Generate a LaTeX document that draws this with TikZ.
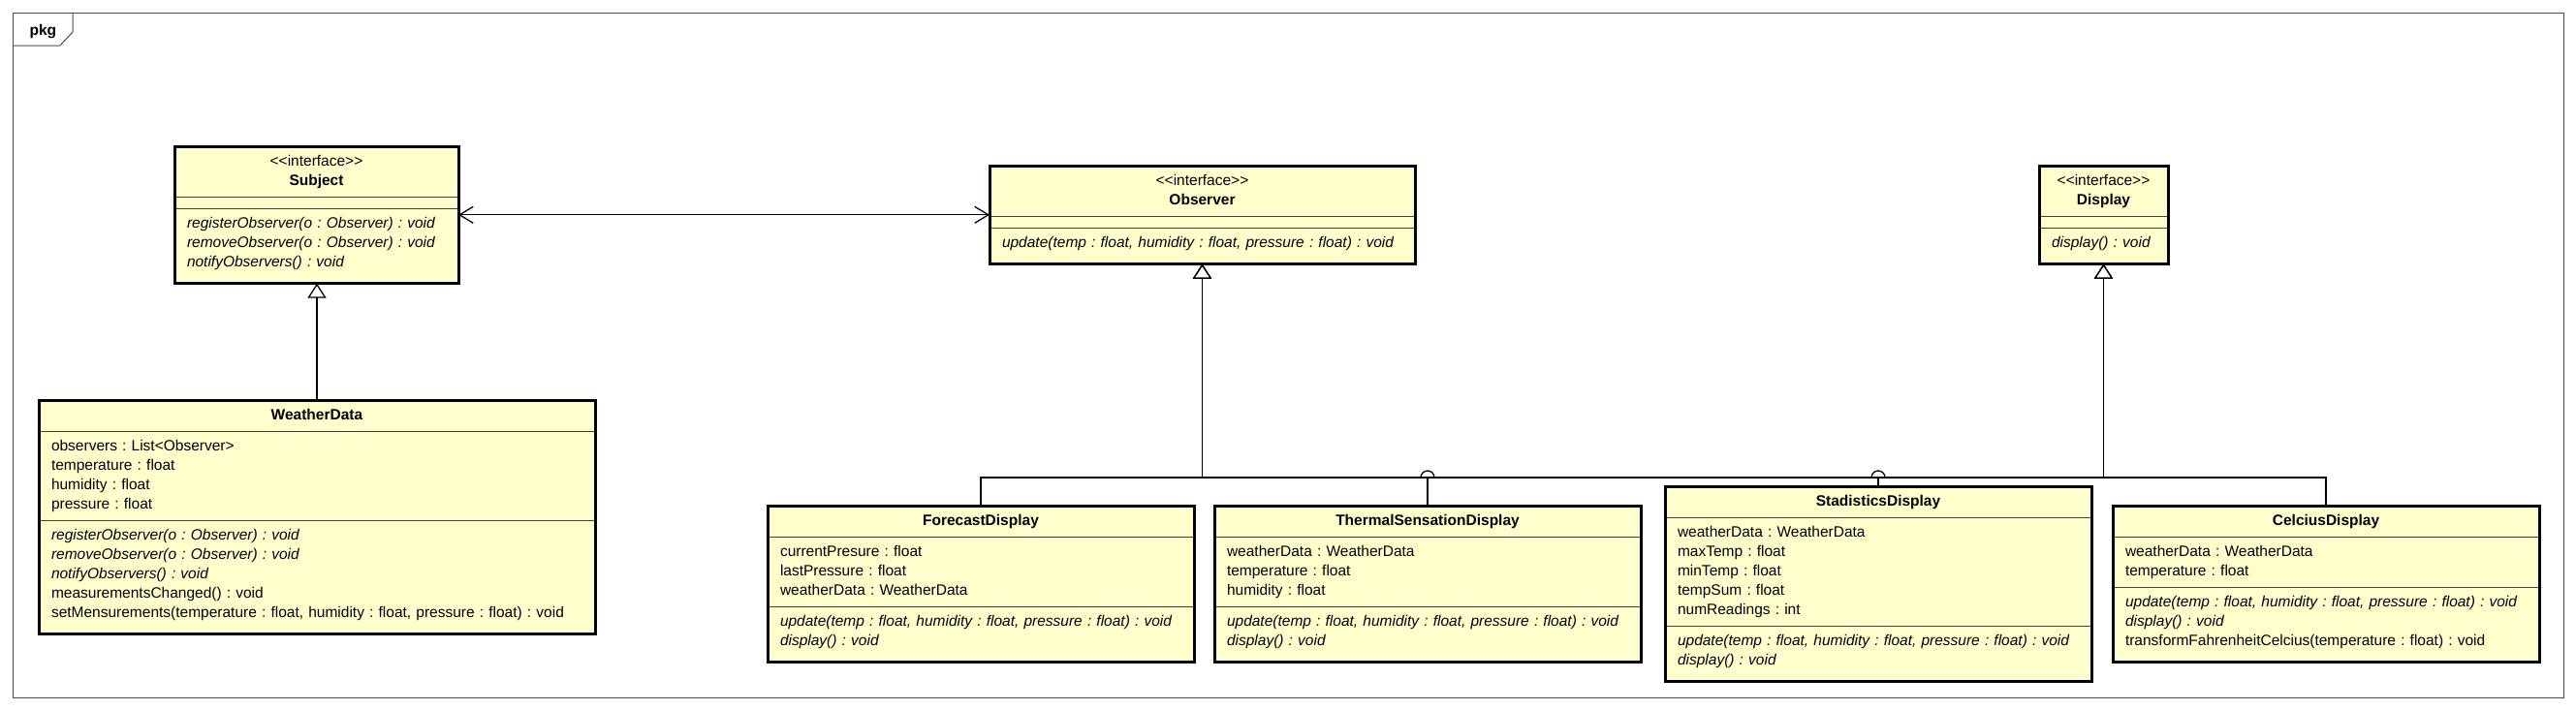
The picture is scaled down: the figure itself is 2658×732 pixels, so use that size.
\documentclass[tikz,border=0pt]{standalone}
\usepackage{fontspec}
\setmainfont{Liberation Sans}[Ligatures=TeXOff]
\usepackage{tikz}
\usetikzlibrary{positioning}
\usetikzlibrary{shapes.multipart,arrows.meta}

\definecolor{classfill}{RGB}{255,255,206}
\newcommand{\stereo}[1]{\textless\textless#1\textgreater\textgreater}
\newcommand{\mstrut}{\rule[-11pt]{0pt}{11pt}}
\frenchspacing

\begin{document}
\begin{tikzpicture}[x=1pt, y=-1pt,
  every node/.style={font=\fontsize{15.5}{20}\selectfont},
  umlclass/.style={rectangle split, rectangle split parts=3, draw=black!75, line width=1.2pt,
    fill=classfill, inner xsep=13pt, inner ysep=5.5pt, outer sep=0pt, anchor=north west,
    rectangle split empty part height=0pt, rectangle split empty part depth=0pt},
  border/.style={line width=3pt},
  link/.style={line width=1.3pt},
  gen/.style={link, -{Triangle[fill=white, length=15pt, width=19pt, line width=1.3pt]}},
  assoc/.style={link, {Straight Barb[length=14pt, width=17pt]}-{Straight Barb[length=14pt, width=17pt]}},
  frame/.style={draw=black!70, line width=1pt},
]
  \useasboundingbox (0,0) rectangle (2658,732);

  % package frame
  \draw[frame] (13,13) rectangle (2645,720);
  \draw[frame] (75,13) -- (75,33) -- (62,47) -- (13,47);
  \node[font=\fontsize{15.5}{20}\selectfont\bfseries, anchor=base west] (pkg) at (27,36) {pkg};

  % interfaces
  \node[umlclass, text width=267pt] (subj) at (180,151)
    {\centering\strut\stereo{interface}\\\textbf{Subject}\strut\par
     \nodepart{second}
     \nodepart{third}\itshape\strut registerObserver(o : Observer) : void\\removeObserver(o : Observer) : void\\notifyObservers() : void\mstrut};
  \node[umlclass, text width=413pt] (obs) at (1021,171)
    {\centering\strut\stereo{interface}\\\textbf{Observer}\strut\par
     \nodepart{second}
     \nodepart{third}\itshape\strut update(temp : float, humidity : float, pressure : float) : void\mstrut};
  \node[umlclass, text width=107pt] (disp) at (2104,171)
    {\centering\strut\stereo{interface}\\\textbf{Display}\strut\par
     \nodepart{second}
     \nodepart{third}\itshape\strut display() : void\mstrut};

  % classes
  \node[umlclass, text width=548pt] (wd) at (40,413)
    {\centering\strut\textbf{WeatherData}\strut\par
     \nodepart{second}\strut observers : List\textless Observer\textgreater\\temperature : float\\humidity : float\\pressure : float\strut
     \nodepart{third}\strut\textit{registerObserver(o : Observer) : void}\\\textit{removeObserver(o : Observer) : void}\\\textit{notifyObservers() : void}\\measurementsChanged() : void\\setMensurements(temperature : float, humidity : float, pressure : float) : void\mstrut};

  \node[umlclass, text width=414pt] (fc) at (792,522)
    {\centering\strut\textbf{ForecastDisplay}\strut\par
     \nodepart{second}\strut currentPresure : float\\lastPressure : float\\weatherData : WeatherData\strut
     \nodepart{third}\itshape\strut update(temp : float, humidity : float, pressure : float) : void\\display() : void\mstrut};
  \node[umlclass, text width=414pt, right=21pt of fc.north east, anchor=north west] (ts)
    {\centering\strut\textbf{ThermalSensationDisplay}\strut\par
     \nodepart{second}\strut weatherData : WeatherData\\temperature : float\\humidity : float\strut
     \nodepart{third}\itshape\strut update(temp : float, humidity : float, pressure : float) : void\\display() : void\mstrut};
  \node[umlclass, text width=414pt] (sd) at (1718,502)
    {\centering\strut\textbf{StadisticsDisplay}\strut\par
     \nodepart{second}\strut weatherData : WeatherData\\maxTemp : float\\minTemp : float\\tempSum : float\\numReadings : int\strut
     \nodepart{third}\itshape\strut update(temp : float, humidity : float, pressure : float) : void\\display() : void\mstrut};
  \node[umlclass, text width=414pt] (cd) at (2180,522)
    {\centering\strut\textbf{CelciusDisplay}\strut\par
     \nodepart{second}\strut weatherData : WeatherData\\temperature : float\strut
     \nodepart{third}\strut\textit{update(temp : float, humidity : float, pressure : float) : void}\\\textit{display() : void}\\transformFahrenheitCelcius(temperature : float) : void\mstrut};

  \foreach \n in {subj,obs,disp,wd,fc,ts,sd,cd}
    \draw[border] (\n.north west) rectangle (\n.south east);

  % relations
  \coordinate (bus) at (0,493);
  \draw[assoc] (subj.east) -- (subj.east -| obs.west);
  \draw[gen] (wd.north) -- (wd.north |- subj.south);
  \foreach \c in {fc,ts,sd,cd} {
    \draw[gen] (\c.north) -- (\c.north |- bus) -| (obs.south);
    \draw[gen] (\c.north) -- (\c.north |- bus) -| (disp.south);
  }
  \foreach \c in {ts,sd}
    \draw[link] (\c.north |- bus) ++(-7pt,0) arc[start angle=180, end angle=0, radius=7pt];
\end{tikzpicture}
\end{document}
